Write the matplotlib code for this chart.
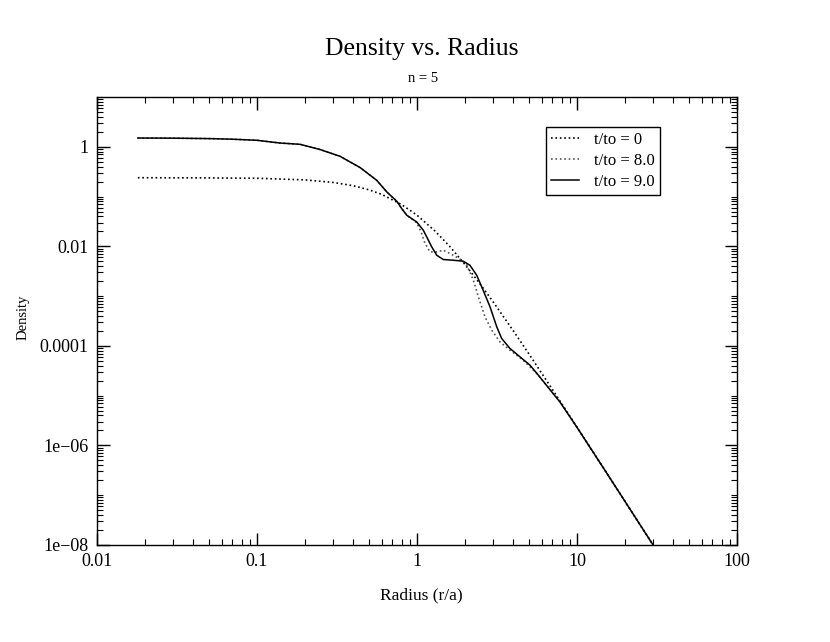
import numpy as np
import matplotlib
matplotlib.use("Agg")
import matplotlib.pyplot as plt
from matplotlib.ticker import LogLocator, NullFormatter

plt.rcParams['font.family'] = ['Liberation Serif', 'DejaVu Serif']

# t/to = 0 (initial profile)
r_t0 = [0.018, 0.05, 0.1, 0.2, 0.3, 0.4, 0.5, 0.6, 0.8, 1.0, 1.3, 1.6,
        2.0, 2.5, 3.0, 4.0, 5.0, 7.0, 10, 15, 20, 30, 35]
rho_t0 = [0.239, 0.237, 0.233, 0.216, 0.192, 0.165, 0.137, 0.111, 0.0693,
          0.0422, 0.0201, 0.00998, 0.00427, 0.00169, 7.55e-4, 2.0e-4,
          6.92e-5, 1.35e-5, 2.33e-6, 3.11e-7, 7.42e-8, 9.8e-9, 4.5e-9]

# t/to = 8.0
r_t8 = [0.018, 0.03, 0.05, 0.07, 0.1, 0.139, 0.186, 0.248, 0.33, 0.441,
        0.56, 0.647, 0.747, 0.802, 0.863, 0.995, 1.069, 1.122, 1.205,
        1.328, 1.46, 1.686, 1.90, 2.05, 2.25, 2.42, 2.66, 2.93, 3.30,
        3.81, 4.61, 5.60, 7.83, 10, 15, 20, 30, 35]
rho_t8 = [1.50, 1.49, 1.46, 1.42, 1.35, 1.19, 1.12, 0.88, 0.644, 0.382,
          0.212, 0.124, 0.0805, 0.0574, 0.0421, 0.0300, 0.0181, 0.0114,
          0.00772, 0.00772, 0.00835, 0.00662, 0.00526, 0.00417, 0.00208,
          9.6e-4, 3.82e-4, 2.07e-4, 1.2e-4, 8.2e-5, 5.16e-5, 2.79e-5,
          7.6e-6, 2.3e-6, 3.1e-7, 7.4e-8, 9.8e-9, 4.5e-9]

# t/to = 9.0
r_t9 = [0.018, 0.03, 0.05, 0.07, 0.1, 0.139, 0.186, 0.248, 0.33, 0.441,
        0.56, 0.647, 0.747, 0.802, 0.863, 0.995, 1.094, 1.177, 1.236,
        1.328, 1.46, 1.686, 1.946, 2.14, 2.36, 2.59, 2.86, 3.15, 3.38,
        3.81, 4.40, 5.08, 5.73, 7.83, 10, 15, 20, 30, 35]
rho_t9 = [1.50, 1.49, 1.46, 1.42, 1.35, 1.19, 1.12, 0.88, 0.644, 0.382,
          0.212, 0.124, 0.0805, 0.0574, 0.0421, 0.0309, 0.0211, 0.0133,
          0.00973, 0.00662, 0.00543, 0.00526, 0.00502, 0.00417, 0.00263,
          0.00131, 6.07e-4, 2.41e-4, 1.41e-4, 8.87e-5, 6.02e-5, 4.1e-5,
          2.58e-5, 7.4e-6, 2.3e-6, 3.1e-7, 7.4e-8, 9.8e-9, 4.5e-9]

x_ticks = [0.01, 0.1, 1, 10, 100]
x_labels = ['0.01', '0.1', '1', '10', '100']
y_ticks = [1e-8, 1e-6, 1e-4, 1e-2, 1]
y_labels = ['1e\u221208', '1e\u221206', '0.0001', '0.01', '1']

fig = plt.figure(figsize=(8.3, 6.42), dpi=100)
ax = fig.add_axes([0.1169, 0.1511, 0.7711, 0.6978])

ax.plot(r_t0, rho_t0, color='black', linestyle=':', linewidth=1.2, label='t/to = 0')
ax.plot(r_t8, rho_t8, color='#555555', linestyle=':', linewidth=1.2, label='t/to = 8.0')
ax.plot(r_t9, rho_t9, color='black', linestyle='-', linewidth=1.1, label='t/to = 9.0')

ax.set_xscale('log')
ax.set_yscale('log')
ax.set_xlim(0.01, 100)
ax.set_ylim(1e-8, 10)

ax.set_xticks(x_ticks)
ax.set_xticklabels(x_labels)
ax.set_yticks(y_ticks)
ax.set_yticklabels(y_labels)
ax.xaxis.set_minor_locator(LogLocator(base=10, subs=np.arange(1, 10), numticks=100))
ax.yaxis.set_minor_locator(LogLocator(base=10, subs=np.arange(1, 10), numticks=100))
ax.xaxis.set_minor_formatter(NullFormatter())
ax.yaxis.set_minor_formatter(NullFormatter())

ax.tick_params(which='both', direction='in', top=True, right=True, color='black')
ax.tick_params(which='major', length=9, width=1, labelsize=13, pad=6)
ax.tick_params(which='minor', length=4.3, width=0.8)
for s in ax.spines.values():
    s.set_linewidth(1.0)

ax.set_xlabel('Radius (r/a)', fontsize=12.5)
ax.xaxis.set_label_coords(0.507, -0.094)
ax.set_ylabel('Density', fontsize=10.5)
ax.yaxis.set_label_coords(-0.105, 0.508)

fig.text(0.508, 0.915, 'Density vs. Radius', ha='center', va='baseline', fontsize=18.5)
fig.text(0.51, 0.872, 'n = 5', ha='center', va='baseline', fontsize=10.5)

leg = ax.legend(loc='upper right', bbox_to_anchor=(0.88, 0.933), borderaxespad=0,
                fontsize=12, frameon=True, fancybox=False, edgecolor='black',
                framealpha=1, handlelength=1.7, handletextpad=0.9,
                borderpad=0.3, labelspacing=0.3)
leg.get_frame().set_linewidth(1.0)

fig.savefig('out.png', dpi=100)
